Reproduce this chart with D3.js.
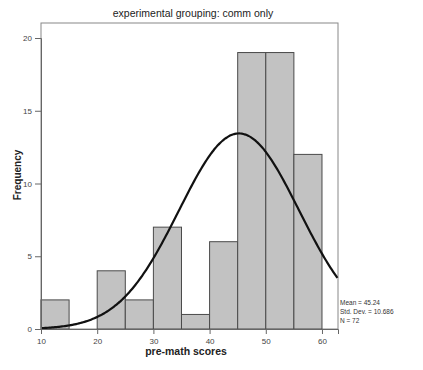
<!DOCTYPE html>
<html><head><meta charset="utf-8">
<script src="https://cdn.jsdelivr.net/npm/d3@7"></script>
<style>body{margin:0;background:#fff}svg{display:block}</style>
</head><body>
<svg id="c" width="423" height="370"></svg>
<script>
const binStarts = [10, 15, 20, 25, 30, 35, 40, 45, 50, 55];
const counts    = [2, 0, 4, 2, 7, 1, 6, 19, 19, 12];
const binWidth = 5;
const xTicks = [10, 20, 30, 40, 50, 60];
const yTicks = [0, 5, 10, 15, 20];
const meanVal = 45.24, sdVal = 10.686, nVal = 72;
const title = "experimental grouping: comm only";
const xLabel = "pre-math scores";
const yLabel = "Frequency";
const statLines = ["Mean = 45.24", "Std. Dev. = 10.686", "N = 72"];

const svg = d3.select("#c");
const L = 41, R = 338, T = 23, B = 329;
const x = d3.scaleLinear().domain([10, 62.85]).range([L, R]);
const y = d3.scaleLinear().domain([0, 20]).range([B, 38]);

// frame
svg.append("rect").attr("x", L).attr("y", T).attr("width", R - L).attr("height", B - T)
  .attr("fill", "#fff").attr("stroke", "#888").attr("stroke-width", 1);

// bars
svg.append("g").selectAll("rect").data(binStarts.map((s, i) => ({s, c: counts[i]})).filter(d => d.c > 0))
  .join("rect")
  .attr("x", d => x(d.s)).attr("width", d => x(d.s + binWidth) - x(d.s))
  .attr("y", d => y(d.c)).attr("height", d => y(0) - y(d.c))
  .attr("fill", "#c2c2c2").attr("stroke", "#4a4a4a").attr("stroke-width", 1);

// normal curve derived from stated mean, SD, N
const pts = d3.range(10, 62.85 + 0.001, 0.25).map(v => [v,
  nVal * binWidth * Math.exp(-0.5 * ((v - meanVal) / sdVal) ** 2) / (sdVal * Math.sqrt(2 * Math.PI))]);
svg.append("path").datum(pts)
  .attr("d", d3.line().x(d => x(d[0])).y(d => y(d[1])).curve(d3.curveBasis))
  .attr("fill", "none").attr("stroke", "#111").attr("stroke-width", 2.2);

// axes
const font = "Arial, 'Liberation Sans', sans-serif";
const ya = svg.append("g").attr("transform", `translate(${L},0)`)
  .call(d3.axisLeft(y).tickValues(yTicks).tickSize(6).tickPadding(3));
const xa = svg.append("g").attr("transform", `translate(0,${B})`)
  .call(d3.axisBottom(x).tickValues(xTicks).tickSize(5).tickPadding(4));
[ya, xa].forEach(a => {
  a.selectAll("path").attr("stroke", "#666");
  a.selectAll("line").attr("stroke", "#666");
  a.selectAll("text").attr("font-family", font).attr("font-size", 8).attr("fill", "#444");
});

// title and labels
svg.append("text").attr("x", 193).attr("y", 17).attr("text-anchor", "middle")
  .attr("font-family", font).attr("font-size", 10.5).attr("fill", "#222").text(title);
svg.append("text").attr("x", 186).attr("y", 355).attr("text-anchor", "middle")
  .attr("font-family", font).attr("font-size", 10.5).attr("font-weight", "bold").attr("fill", "#222").text(xLabel);
svg.append("text").attr("transform", "translate(21,175) rotate(-90)").attr("text-anchor", "middle")
  .attr("font-family", font).attr("font-size", 10).attr("font-weight", "bold").attr("fill", "#222").text(yLabel);

// stats
svg.append("g").selectAll("text").data(statLines).join("text")
  .attr("x", 340).attr("y", (d, i) => 305 + i * 9)
  .attr("font-family", font).attr("font-size", 6.5).attr("fill", "#333").text(d => d);
</script>
</body></html>
